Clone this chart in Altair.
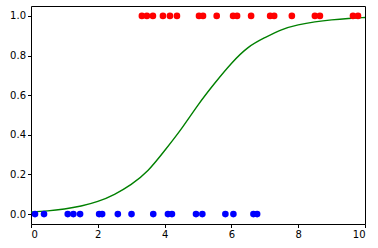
import altair as alt
import pandas as pd

red_x = [3.32, 3.47, 3.65, 3.95, 4.16, 4.37, 5.03, 5.15, 5.56, 6.05, 6.17, 6.59,
         7.16, 7.28, 7.81, 8.50, 8.65, 9.64, 9.79]
blue_x = [0.12, 0.39, 1.10, 1.27, 1.47, 2.04, 2.13, 2.60, 3.01, 3.66, 4.10, 4.22,
          4.94, 5.13, 5.82, 6.06, 6.66, 6.77]
curve_x = [0, 0.5, 1, 1.5, 2, 2.5, 3, 3.5, 4, 4.5, 5, 5.5, 6, 6.5, 7, 7.5, 8, 8.5, 9, 9.5, 10]
curve_y = [0.010, 0.016, 0.026, 0.041, 0.064, 0.10, 0.15, 0.22, 0.32, 0.43, 0.55, 0.66,
           0.76, 0.84, 0.89, 0.93, 0.955, 0.97, 0.98, 0.987, 0.992]

pts = pd.DataFrame({
    "x": red_x + blue_x,
    "y": [1.0] * len(red_x) + [0.0] * len(blue_x),
    "c": ["red"] * len(red_x) + ["blue"] * len(blue_x),
})
curve = pd.DataFrame({"x": curve_x, "y": curve_y})

xs = alt.Scale(domain=[0, 10], nice=False, zero=False)
ys = alt.Scale(domain=[-0.05, 1.05], nice=False, zero=False)

xax = alt.Axis(values=[0, 2, 4, 6, 8, 10], format="d", grid=False, title=None,
               domain=False, tickColor="black", tickSize=3.5, labelPadding=2,
               labelFont="DejaVu Sans", labelFontSize=10, labelColor="black")
yax = alt.Axis(values=[0, 0.2, 0.4, 0.6, 0.8, 1.0], format=".1f", grid=False, title=None,
               domain=False, tickColor="black", tickSize=3.5, labelPadding=2,
               labelFont="DejaVu Sans", labelFontSize=10, labelColor="black")

points = alt.Chart(pts).mark_circle(size=44, opacity=1).encode(
    x=alt.X("x:Q", scale=xs, axis=xax),
    y=alt.Y("y:Q", scale=ys, axis=yax),
    color=alt.Color("c:N", scale=alt.Scale(domain=["red", "blue"], range=["#ff0000", "#0000ff"]), legend=None),
)

line = alt.Chart(curve).mark_line(color="#008000", strokeWidth=1.4, interpolate="natural").encode(
    x=alt.X("x:Q", scale=xs),
    y=alt.Y("y:Q", scale=ys),
)

chart = alt.layer(line, points).properties(
    width=334, height=218,
    autosize=alt.AutoSizeParams(type="none"),
    padding={"left": 31, "top": 6, "right": 13, "bottom": 24},
    background="white",
).configure_view(stroke="black", strokeWidth=1)

chart.save("out.html", embed_options={"renderer": "svg", "actions": False})
